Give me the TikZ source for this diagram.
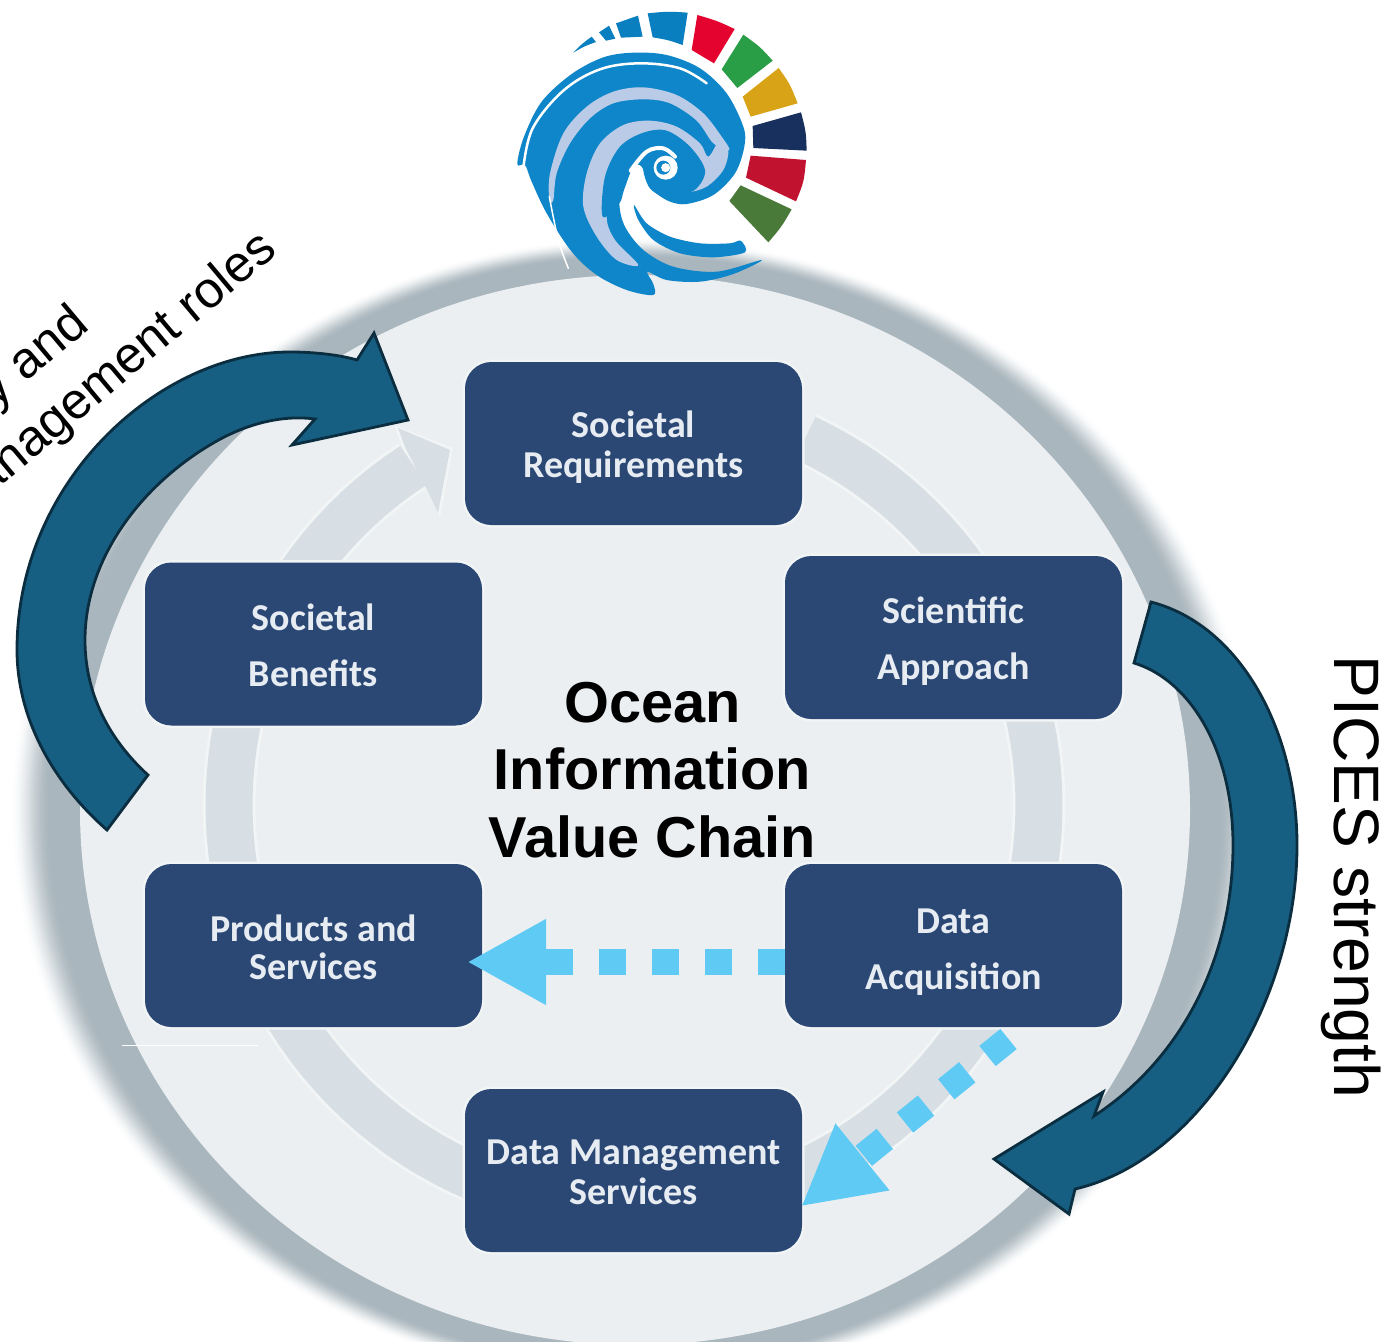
\documentclass[tikz,border=0pt]{standalone}
\usepackage{fontspec}
\setmainfont{Liberation Sans}
\newfontfamily\boxfont{Carlito}
\usetikzlibrary{arrows.meta,calc}
\definecolor{shade}{HTML}{A9B6BD}
\definecolor{disc}{HTML}{EBEFF1}
\definecolor{ringc}{HTML}{D7DFE4}
\definecolor{ringe}{HTML}{F2F5F6}
\definecolor{boxc}{HTML}{2B4875}
\definecolor{boxt}{HTML}{E6ECF2}
\definecolor{flow}{HTML}{5FCBF5}
\definecolor{big}{HTML}{165F82}
\definecolor{bige}{HTML}{0B2D40}
\definecolor{sw}{HTML}{0E86C9}
\definecolor{swl}{HTML}{B9CBE6}
\definecolor{wblue}{HTML}{0A7FC0}
\definecolor{wredb}{HTML}{E4032F}
\definecolor{wgreen}{HTML}{2A9E47}
\definecolor{wyellow}{HTML}{D8A316}
\definecolor{wnavy}{HTML}{18305E}
\definecolor{wred}{HTML}{C1122F}
\definecolor{wdgreen}{HTML}{4A7A3A}
\tikzset{
  stage/.style={fill=boxc,draw=boxc,line width=1pt,rounded corners=26pt,minimum width=336pt,minimum height=162pt,inner sep=0pt,
    preaction={draw=ringe,line width=6pt}},
  stagetext/.style={text=boxt,align=center,inner sep=0pt,font=\boxfont\bfseries\fontsize{38}{40}\selectfont},
  bigarrow/.style={fill=big,draw=bige,line width=2.8pt,line join=miter},
  dashflow/.style={draw=flow,line width=26pt,dash pattern=on 27pt off 26pt,-{Triangle[length=79pt,width=80pt,fill=flow,color=flow]}},
  sidetext/.style={font=\fontsize{64.2}{64.2}\selectfont,text=black,inner sep=0pt},
  lefttext/.style={font=\fontsize{51}{51}\selectfont,text=black,inner sep=0pt,rotate=40},
}
\begin{document}
\begin{tikzpicture}[x=1pt,y=-1pt]
\useasboundingbox (0,0) rectangle (1383,1341);
\clip (0,0) rectangle (1383,1341);
% shadow of the disc: concentric ellipses fading to white
\foreach \k in {0,...,32}{
  \pgfmathsetmacro{\rr}{\k/32}
  \pgfmathsetmacro{\pc}{100*(3*\rr*\rr-2*\rr*\rr*\rr)}
  \pgfmathsetmacro{\rx}{625-40*\rr}
  \pgfmathsetmacro{\ry}{572-20*\rr}
  \fill[shade!\pc!white] (635,810) ellipse [x radius=\rx pt,y radius=\ry pt];
}
\fill[disc] (635,810) ellipse [x radius=555pt,y radius=535pt];
\draw[white,line width=1pt] (122,1045) -- (258,1045);
% pale ring
\draw[ringe,line width=53pt] plot[domain=295:597,samples=120] ({634+405*cos(\x)},{805+405*sin(\x)});
\fill[ringe] (453,448) -- (394,425) -- (402,447) -- (427,492) -- (440,518) -- cycle;
\draw[ringc,line width=47pt] plot[domain=295:597,samples=120] ({634+405*cos(\x)},{805+405*sin(\x)});
\fill[ringc] (450,450) -- (398,428) -- (405,447) -- (427,490) -- (438,513) -- cycle;
% logo
\begin{scope}[shift={(500,0)},x=0.33333pt,y=-0.33333pt]
\fill[sw] plot[smooth cycle,tension=.55] coordinates {(52,492)(72,410)(125,305)(215,222)(310,172)(400,158)(500,165)(600,205)(680,280)(730,380)(733,440)(705,520)(640,585)(560,612)(510,605)(468,580)(445,558)(430,510)(440,468)(400,480)(370,540)(358,610)(375,680)(430,750)(520,800)(650,815)(785,780)(700,822)(600,845)(500,840)(442,815)(460,852)(460,885)(380,870)(290,825)(215,755)(140,640)(95,545)(75,495)};
\draw[white,line width=2.5pt,line cap=round] plot[smooth,tension=.6] coordinates {(70,505)(98,385)(190,272)(300,208)(420,190)(540,205)(620,250)};
\fill[swl] plot[smooth cycle,tension=.55] coordinates {(148,600)(150,520)(190,400)(260,320)(340,275)(430,262)(530,285)(610,340)(665,410)(688,450)(640,430)(590,362)(510,310)(430,298)(340,310)(270,355)(210,430)(170,520)(160,600)};
\fill[swl] plot[smooth cycle,tension=.55] coordinates {(250,620)(260,520)(300,430)(370,375)(450,362)(530,380)(600,430)(625,470)(660,420)(685,450)(670,510)(620,560)(560,578)(510,578)(470,500)(400,470)(345,560)(320,650)(345,720)(415,795)(350,780)(290,710)};
\draw[white,line width=1.5pt,line cap=round] plot[smooth,tension=.6] coordinates {(148,590)(175,720)(205,805)};
\fill[sw] plot[smooth cycle,tension=.55] coordinates {(308,650)(315,530)(360,440)(430,398)(500,392)(570,440)(615,510)(590,565)(540,585)(480,578)(445,548)(425,500)(400,500)(372,570)(358,610)};
\fill[white] (497,503) circle [radius=12pt];
\fill[sw] (490,503) circle [radius=7pt];
\fill[white] (497,503) circle [radius=4.5pt];
\draw[white,line width=4pt,line cap=round] plot[smooth,tension=.6] coordinates {(392,512)(440,455)(490,445)(525,470)};
\fill[sw] plot[smooth cycle,tension=.5] coordinates {(402,615)(440,670)(510,710)(600,730)(690,730)(722,722)(735,757)(640,772)(540,760)(460,720)(415,660)};
\fill[wblue] (220,158) .. controls (245,132) .. (275,110) -- (288,126) .. controls (250,140) .. cycle;
\fill[wblue] (346,116) .. controls (330,118) .. (318,122) -- (297,97) -- (327,77) -- cycle;
\fill[wblue] (428,110) .. controls (395,110) .. (363,113) -- (348,70) .. controls (380,57) .. (414,47) -- cycle;
\fill[wblue] (548,135) .. controls (505,120) .. (458,112) -- (443,40) .. controls (505,34) .. (563,38) -- cycle;
\fill[wredb] (642,190) .. controls (610,168) .. (575,150) -- (592,45) .. controls (650,62) .. (704,87) -- cycle;
\fill[wgreen] (712,264) .. controls (690,235) .. (665,208) -- (730,104) .. controls (780,140) .. (818,182) -- cycle;
\fill[wyellow] (752,350) .. controls (742,318) .. (728,290) -- (836,204) .. controls (870,252) .. (893,310) -- cycle;
\fill[wnavy] (760,444) .. controls (760,410) .. (758,378) -- (903,337) .. controls (918,395) .. (920,452) -- cycle;
\fill[wred] (738,533) -- (752,467) -- (918,480) .. controls (912,545) .. (888,604) -- cycle;
\fill[wdgreen] (688,603) -- (722,556) -- (875,628) .. controls (845,680) .. (805,727) -- cycle;
\end{scope}
% stages
\node[stage,label={[stagetext,yshift=-4pt]center:Societal\\Requirements}] (req) at (633.5,443.5) {};
\node[stage,label={[stagetext,yshift=-4pt]center:Scientific\\[16pt]Approach}] (sci) at (953.5,637.5) {};
\node[stage,label={[stagetext,yshift=-7pt]center:Data\\[16pt]Acquisition}] (acq) at (953.5,945.5) {};
\node[stage,label={[stagetext,yshift=-2pt]center:Data Management\\Services}] (dms) at (633.5,1170.5) {};
\node[stage,label={[stagetext,yshift=-1.5pt]center:Products and\\[-2pt]Services}] (prod) at (313.5,945.5) {};
\node[stage,label={[stagetext,yshift=-1pt]center:Societal\\[16pt]Benefits}] (ben) at (313.5,644) {};
% dashed flows
\coordinate (f1s) at ($(acq.west)+(0,16.5)$);
\coordinate (f1e) at ($(prod.east)+(-15,16.5)$);
\draw[dashflow] (f1s) -- (f1e);
\coordinate (f2s) at ($(acq.south)+(55,12)$);
\coordinate (f2e) at ($(dms.east)+(-1,36)$);
\draw[dashflow] (f2s) -- (f2e);
% centre title
\node[font=\bfseries\fontsize{57.7}{67.5}\selectfont,align=center,inner sep=0pt] (title) at (652.5,770) {Ocean\\Information\\Value Chain};
% large curved arrows
\draw[bigarrow] (1151,602) .. controls (1240,625) and (1297,730) .. (1297,845) .. controls (1297,1000) and (1200,1160) .. (1075,1189) -- (1069,1214) -- (994,1159) -- (1103,1092) -- (1094,1116) .. controls (1180,1060) and (1233,960) .. (1233,845) .. controls (1233,750) and (1190,680) .. (1134,663) -- cycle;
\draw[bigarrow] (107,830) .. controls (50,780) and (17,715) .. (17,650) .. controls (17,480) and (160,352) .. (290,352) .. controls (315,352) and (340,355) .. (357,360) -- (374,333) -- (408,420) -- (292,445) -- (315,419) .. controls (285,415) and (250,422) .. (215,442) .. controls (140,485) and (85,560) .. (85,640) .. controls (85,700) and (115,745) .. (148,775) -- cycle;
% side texts
\node[sidetext,rotate=-90,anchor=center] (pices) at (1351,877) {PICES strength};
\node[lefttext,anchor=base east] (polrole) at (91,328) {Policy and};
\node[lefttext,anchor=base east] (mgmt) at (279,253) {management roles};
\end{tikzpicture}
\end{document}
